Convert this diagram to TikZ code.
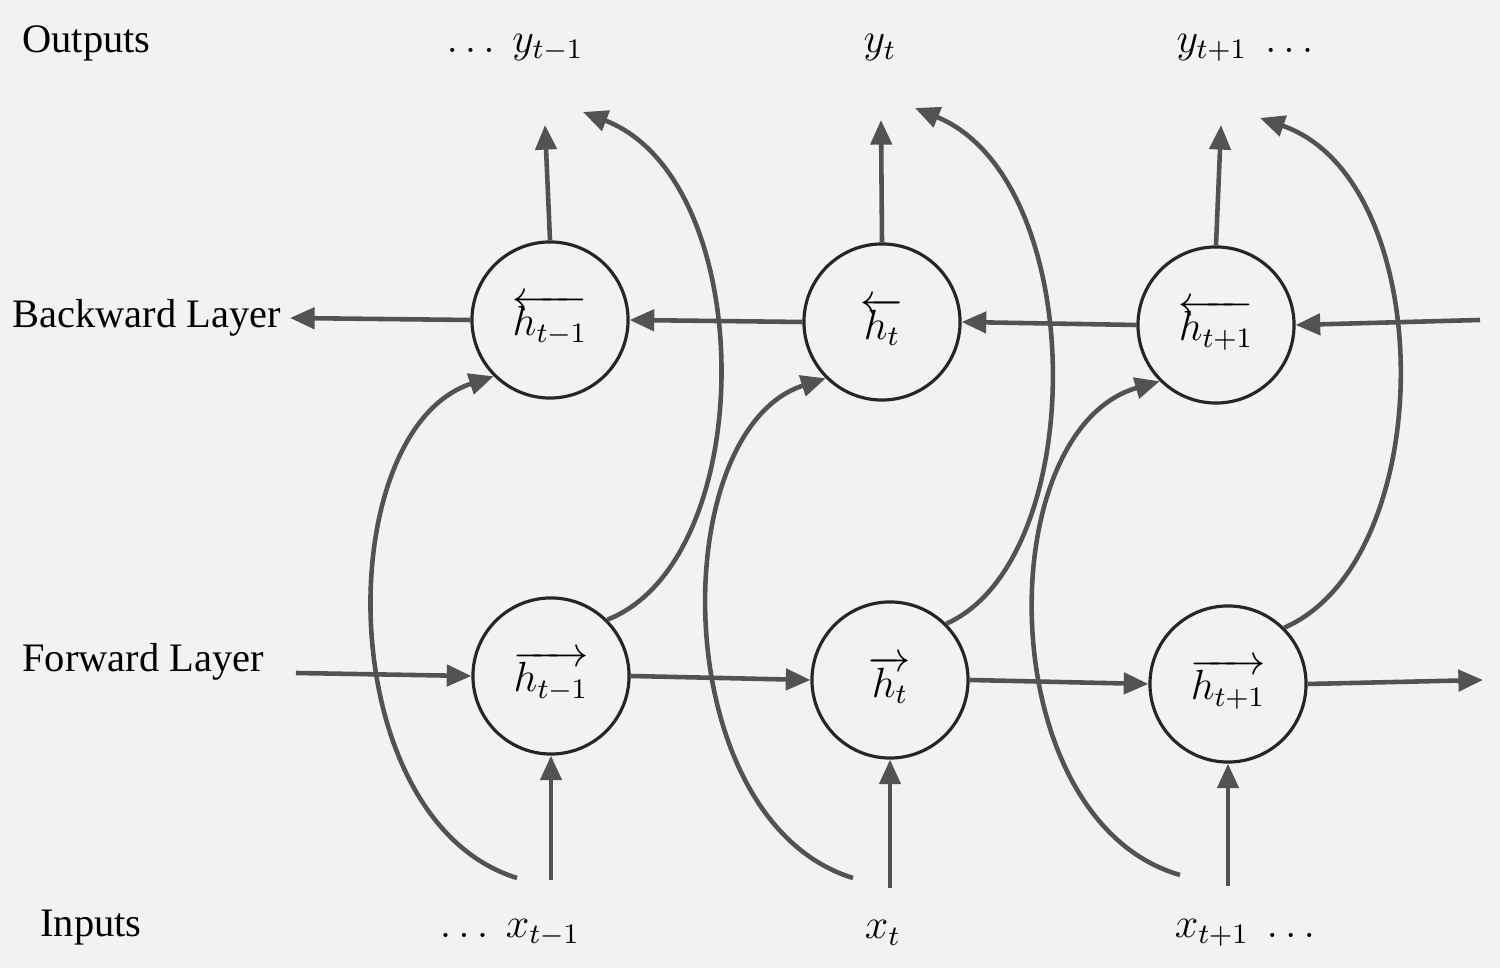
\documentclass[tikz,border=0pt]{standalone}
\usetikzlibrary{arrows.meta}
\usepackage{fontspec}
\setmainfont{Liberation Serif}
\begin{document}
\begin{tikzpicture}[x=0.01cm,y=-0.01cm,
  ln/.style={draw=black!68,line width=1.3pt,-{Triangle[length=7pt,width=6pt]}},
  cell/.style={circle,draw=black!85,line width=0.9pt,minimum size=1.56cm,inner sep=0pt,font=\large},
  lbl/.style={font=\fontsize{11.5}{14}\selectfont,anchor=west},
  ml/.style={font=\large}]
\fill[black!5] (0,0) rectangle (1500,968);
\useasboundingbox (0,0) rectangle (1500,968);
\node[cell] (b1) at (550,320) {$\overleftarrow{h_{t-1}}$};
\node[cell] (b2) at (882,322) {$\overleftarrow{h_{t}}$};
\node[cell] (b3) at (1216,325) {$\overleftarrow{h_{t+1}}$};
\node[cell] (f1) at (551,676) {$\overrightarrow{h_{t-1}}$};
\node[cell] (f2) at (890,680) {$\overrightarrow{h_{t}}$};
\node[cell] (f3) at (1228,684) {$\overrightarrow{h_{t+1}}$};
\node[lbl] (o) at (10,43) {Outputs};
\node[lbl] (bl) at (0,318) {Backward Layer};
\node[lbl] (fl) at (10,662) {Forward Layer};
\node[lbl] (in) at (28,928) {Inputs};
\node[ml] (y1) at (515,48) {$\dots\ y_{t-1}$};
\node[ml] (y2) at (880,48) {$y_t$};
\node[ml] (y3) at (1245,48) {$y_{t+1}\ \dots$};
\node[ml] (x1) at (510,933) {$\dots\ x_{t-1}$};
\node[ml] (x2) at (883,933) {$x_t$};
\node[ml] (x3) at (1245,933) {$x_{t+1}\ \dots$};
\coordinate (br) at (1480,320); \coordinate (bl2) at (290,318);
\coordinate (fl2) at (296,673); \coordinate (fr) at (1483,680);
\draw[ln] (br) -- (b3.east);
\draw[ln] (b3.west) -- (b2.east);
\draw[ln] (b2.west) -- (b1.east);
\draw[ln] (b1.west) -- (bl2);
\draw[ln] (fl2) -- (f1.west);
\draw[ln] (f1.east) -- (f2.west);
\draw[ln] (f2.east) -- (f3.west);
\draw[ln] (f3.east) -- (fr);
\coordinate (u1) at (545,125); \coordinate (u2) at (881,120); \coordinate (u3) at (1221,125);
\draw[ln] (b1.north) -- (u1);
\draw[ln] (b2.north) -- (u2);
\draw[ln] (b3.north) -- (u3);
\coordinate (i1) at (551,880); \coordinate (i2) at (890,888); \coordinate (i3) at (1228,886);
\draw[ln] (i1) -- (f1.south);
\draw[ln] (i2) -- (f2.south);
\draw[ln] (i3) -- (f3.south);
\coordinate (t1) at (583,112); \coordinate (t2) at (915,108); \coordinate (t3) at (1260,118);
\draw[ln] (f1.north east) .. controls (760,560) and (760,180) .. (t1);
\draw[ln] (f2.north east) .. controls (1090,560) and (1090,180) .. (t2);
\draw[ln] (f3.north east) .. controls (1440,560) and (1440,180) .. (t3);
\coordinate (s1) at (517,878); \coordinate (s2) at (853,878); \coordinate (s3) at (1180,875);
\draw[ln] (s1) .. controls (330,820) and (330,430) .. (b1.south west);
\draw[ln] (s2) .. controls (665,820) and (665,430) .. (b2.south west);
\draw[ln] (s3) .. controls (990,820) and (990,430) .. (b3.south west);
\end{tikzpicture}
\end{document}
